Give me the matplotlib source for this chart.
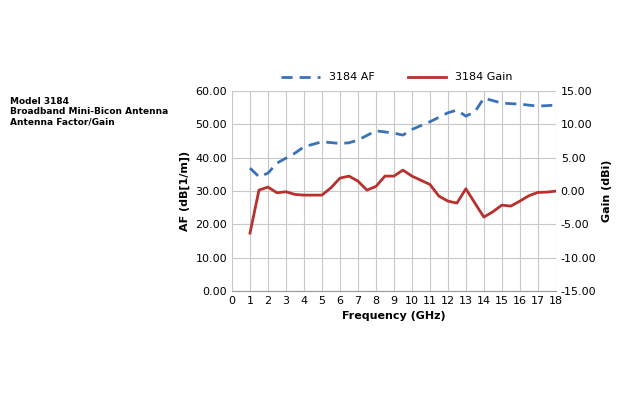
import matplotlib.pyplot as plt

freq_af = [1, 1.5, 2, 2.5, 3, 3.5, 4, 5, 6, 6.5, 7, 8, 9, 9.5, 10, 11, 12, 12.5, 13, 13.5, 14, 15, 16, 17, 18]
af = [36.9, 34.3, 35.4, 38.4, 39.9, 41.4, 43.3, 44.8, 44.3, 44.5, 45.3, 48.1, 47.4, 46.8, 48.5, 50.8, 53.5, 54.3, 52.5, 53.8, 57.9, 56.4, 56.1, 55.5, 55.8]

freq_g = [1, 1.5, 2, 2.5, 3, 3.5, 4, 5, 5.5, 6, 6.5, 7, 7.5, 8, 8.5, 9, 9.5, 10, 11, 11.5, 12, 12.5, 13, 13.5, 14, 14.5, 15, 15.5, 16, 16.5, 17, 17.5, 18]
gain = [-6.3, 0.15, 0.6, -0.25, -0.1, -0.5, -0.6, -0.6, 0.5, 1.95, 2.25, 1.5, 0.15, 0.7, 2.25, 2.25, 3.15, 2.25, 1.0, -0.75, -1.5, -1.8, 0.35, -1.8, -3.9, -3.1, -2.1, -2.25, -1.5, -0.7, -0.2, -0.15, 0.0]

fig = plt.figure(figsize=(6.4, 4.2), dpi=100)
ax = fig.add_axes([0.3625, 0.307, 0.506, 0.476])
ax2 = ax.twinx()

l1, = ax.plot(freq_af, af, color='#3a72b8', lw=2, ls=(0, (4, 2.5)), label='3184 AF')
l2, = ax2.plot(freq_g, gain, color='#b8312f', lw=2, label='3184 Gain')

ax.set_xlim(0, 18)
ax.set_xticks(range(0, 19))
ax.set_ylim(0, 60)
ax.set_yticks(range(0, 61, 10))
ax.set_yticklabels(['%.2f' % v for v in range(0, 61, 10)])
ax2.set_ylim(-15, 15)
ax2.set_yticks(range(-15, 16, 5))
ax2.set_yticklabels(['%.2f' % v for v in range(-15, 16, 5)])
ax.grid(True, color='#c8c8c8', lw=0.8)
for a in (ax, ax2):
    a.tick_params(labelsize=8, length=0)
    for s in a.spines.values():
        s.set_visible(False)
ax.spines['bottom'].set_visible(True)
ax.spines['bottom'].set_color('#999999')

ax.set_xlabel('Frequency (GHz)', fontsize=8, fontweight='bold')
ax.set_ylabel('AF (dB[1/m])', fontsize=8, fontweight='bold')
ax2.set_ylabel('Gain (dBi)', fontsize=8, fontweight='bold')

fig.legend(handles=[l1, l2], loc='lower center', bbox_to_anchor=(0.62, 0.78),
           ncol=2, frameon=False, fontsize=8, handlelength=3.5, columnspacing=3)

fig.text(0.015, 0.77, 'Model 3184\nBroadband Mini-Bicon Antenna\nAntenna Factor/Gain',
         fontsize=6.5, fontweight='bold', va='top', linespacing=1.2)

fig.savefig('out.png')
